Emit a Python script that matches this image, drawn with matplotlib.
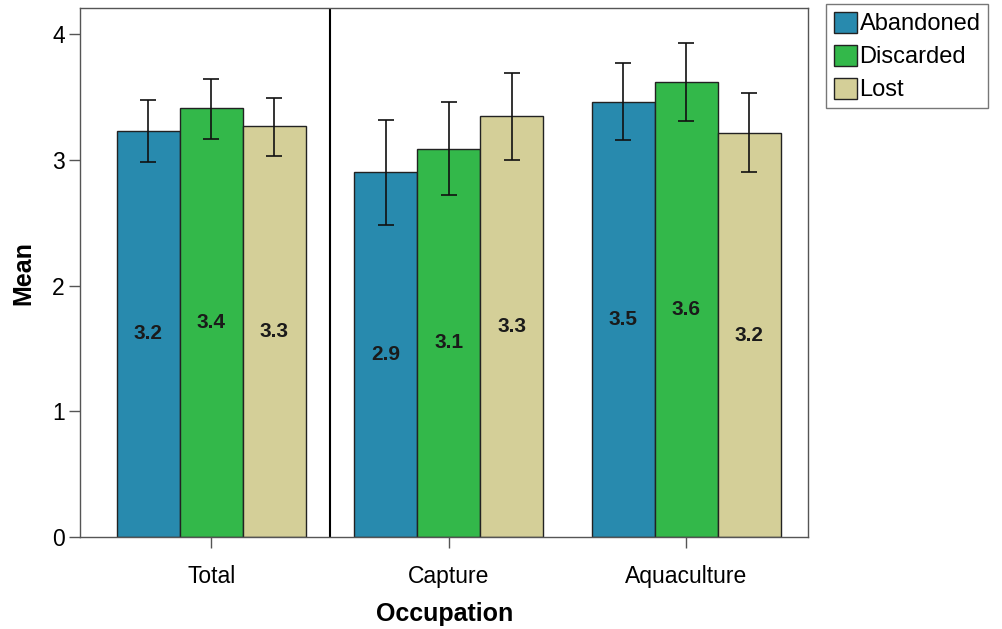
import numpy as np
import matplotlib.pyplot as plt

plt.rcParams['font.family'] = ['Liberation Sans', 'DejaVu Sans']

groups = ['Total', 'Capture', 'Aquaculture']
series = ['Abandoned', 'Discarded', 'Lost']
means = {
    'Abandoned': [3.23, 2.90, 3.46],
    'Discarded': [3.41, 3.09, 3.62],
    'Lost': [3.27, 3.35, 3.21],
}
err_low = {
    'Abandoned': [2.98, 2.48, 3.16],
    'Discarded': [3.17, 2.72, 3.31],
    'Lost': [3.03, 3.00, 2.90],
}
err_high = {
    'Abandoned': [3.48, 3.32, 3.77],
    'Discarded': [3.645, 3.46, 3.93],
    'Lost': [3.49, 3.69, 3.53],
}
labels = {
    'Abandoned': ['3.2', '2.9', '3.5'],
    'Discarded': ['3.4', '3.1', '3.6'],
    'Lost': ['3.3', '3.3', '3.2'],
}
colors = {'Abandoned': '#288AAE', 'Discarded': '#33B84A', 'Lost': '#D4CF98'}

fig = plt.figure(figsize=(10.03, 6.29), dpi=100)
ax = fig.add_axes([0.0798, 0.1463, 0.726, 0.8407])

x = np.arange(len(groups))
w = 0.265
for i, s in enumerate(series):
    pos = x + (i - 1) * w
    m = np.array(means[s])
    lo = m - np.array(err_low[s])
    hi = np.array(err_high[s]) - m
    ax.bar(pos, m, width=w, color=colors[s], edgecolor='#222222', linewidth=1.0,
           label=s, zorder=2)
    ax.errorbar(pos, m, yerr=[lo, hi], fmt='none', ecolor='#111111',
                elinewidth=1.2, capsize=5.5, capthick=1.2, zorder=3)
    for p, v, t in zip(pos, m, labels[s]):
        ax.text(p, v / 2, t, ha='center', va='center', fontsize=15, fontweight='bold',
                color='#1a1a1a', zorder=4)

ax.axvline(0.5, color='black', linewidth=1.5, zorder=1)

ax.set_xlim(-0.552, 2.514)
ax.set_ylim(0, 4.207)
ax.set_yticks([0, 1, 2, 3, 4])
ax.set_xticks(x)
ax.set_xticklabels(groups)
ax.tick_params(axis='both', labelsize=16.5, length=8, width=1, color='#555555')
ax.tick_params(axis='x', pad=12)
ax.tick_params(axis='y', pad=3)
for sp in ax.spines.values():
    sp.set_color('#555555')
    sp.set_linewidth(1)

ax.set_ylabel('Mean', fontsize=18, fontweight='bold', labelpad=12)
ax.set_xlabel('Occupation', fontsize=18, fontweight='bold', labelpad=10)

leg = ax.legend(loc='upper left', bbox_to_anchor=(1.025, 1.007), fontsize=17,
                frameon=True, fancybox=False, handlelength=1.0, handleheight=1.0,
                handletextpad=0.1, borderpad=0.3, labelspacing=0.4, borderaxespad=0)
leg.get_frame().set_edgecolor('#555555')
leg.get_frame().set_linewidth(1)

fig.savefig('out.png', dpi=100)
